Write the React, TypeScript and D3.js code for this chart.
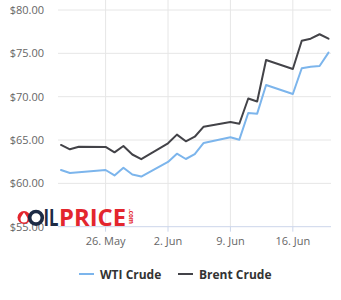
import React from "react";
import * as d3 from "d3";

const dates = [
  "2025-05-21", "2025-05-22", "2025-05-23", "2025-05-26", "2025-05-27", "2025-05-28",
  "2025-05-29", "2025-05-30", "2025-06-02", "2025-06-03", "2025-06-04", "2025-06-05",
  "2025-06-06", "2025-06-09", "2025-06-10", "2025-06-11", "2025-06-12", "2025-06-13",
  "2025-06-16", "2025-06-17", "2025-06-18", "2025-06-19", "2025-06-20",
];
const wti = [
  61.54, 61.2, 61.28, 61.54, 60.91, 61.81, 61.02, 60.79, 62.47, 63.42, 62.81, 63.37,
  64.66, 65.31, 65.04, 68.12, 68.04, 71.35, 70.31, 73.28, 73.46, 73.54, 75.08,
];
const brent = [
  64.43, 63.93, 64.23, 64.2, 63.58, 64.31, 63.33, 62.79, 64.62, 65.62, 64.85, 65.38,
  66.54, 67.08, 66.88, 69.79, 69.45, 74.23, 73.2, 76.46, 76.69, 77.2, 76.69,
];
const yTicks = [55, 60, 65, 70, 75, 80];
const xTicks = ["2025-05-26", "2025-06-02", "2025-06-09", "2025-06-16"];
const xTickLabels = ["26. May", "2. Jun", "9. Jun", "16. Jun"];
const seriesNames = ["WTI Crude", "Brent Crude"];
const seriesColors = ["#7cb5ec", "#434348"];

const parse = (s: string) => new Date(s + "T00:00:00Z");

export default function App() {
  const plotLeft = 58;
  const plotRight = 331;
  const plotTop = 0;
  const plotBottom = 226.7;

  const x = d3
    .scaleUtc()
    .domain([parse(dates[0]), parse(dates[dates.length - 1])])
    .range([61, 328.5]);
  const y = d3.scaleLinear().domain([55, 80]).range([226.7, 10]);

  const line = d3
    .line<[Date, number]>()
    .x((d) => x(d[0]))
    .y((d) => y(d[1]));

  const series = [wti, brent].map((vals) =>
    vals.map((v, i) => [parse(dates[i]), v] as [Date, number])
  );

  const font = "'Open Sans', 'DejaVu Sans', sans-serif";

  return (
    <svg
      width={341}
      height={300}
      style={{ position: "absolute", left: 0, top: 0, background: "#fff" }}
      fontFamily={font}
    >
      {/* horizontal gridlines */}
      {yTicks.slice(1).map((t) => (
        <line
          key={"hg" + t}
          x1={plotLeft}
          x2={plotRight}
          y1={y(t)}
          y2={y(t)}
          stroke="#e6e6e6"
          strokeWidth={1}
        />
      ))}
      {/* vertical gridlines */}
      {xTicks.map((t) => (
        <line
          key={"vg" + t}
          x1={x(parse(t))}
          x2={x(parse(t))}
          y1={plotTop}
          y2={plotBottom}
          stroke="#e6e6e6"
          strokeWidth={1}
        />
      ))}
      {/* x axis */}
      <line x1={plotLeft} x2={plotRight} y1={plotBottom} y2={plotBottom} stroke="#ccd6eb" strokeWidth={1} />
      {xTicks.map((t, i) => (
        <g key={"xt" + t}>
          <line
            x1={x(parse(t))}
            x2={x(parse(t))}
            y1={plotBottom}
            y2={plotBottom + 5}
            stroke="#ccd6eb"
          />
          <text
            x={x(parse(t))}
            y={245}
            textAnchor="middle"
            fontSize={11}
            fill="#666666"
          >
            {xTickLabels[i]}
          </text>
        </g>
      ))}
      {/* y labels */}
      {yTicks.map((t) => (
        <text key={"yl" + t} x={44} y={y(t) + 4} textAnchor="end" fontSize={11} fill="#666666">
          {"$" + d3.format(".2f")(t)}
        </text>
      ))}
      {/* series */}
      {series.map((s, i) => (
        <path
          key={"s" + i}
          d={line(s) || ""}
          fill="none"
          stroke={seriesColors[i]}
          strokeWidth={2}
          strokeLinejoin="round"
          strokeLinecap="round"
        />
      ))}
      {/* logo watermark */}
      <g>
        <circle cx={24} cy={217.5} r={6.5} fill="#e3262e" />
        <path d="M24 212.5 C26.5 216 27.5 217.5 27.5 219 A3.5 3.5 0 0 1 20.5 219 C20.5 217.5 21.5 216 24 212.5 Z" fill="#ffffff" />
        <circle cx={36} cy={217.8} r={6.3} fill="none" stroke="#1d2b45" strokeWidth={3.6} />
        <text x={43.5} y={226.3} fontSize={23} fontWeight="bold" fill="#1d2b45" textLength={15} lengthAdjust="spacingAndGlyphs">
          IL
        </text>
        <text x={59} y={226.3} fontSize={23} fontWeight="bold" fill="#e3262e" textLength={67} lengthAdjust="spacingAndGlyphs">
          PRICE
        </text>
        <text
          transform="translate(128.5,209) rotate(90)"
          fontSize={6.5}
          fontWeight="bold"
          fill="#e3262e"
          textLength={15}
          lengthAdjust="spacingAndGlyphs"
        >
          .com
        </text>
      </g>
      {/* legend */}
      {seriesNames.map((n, i) => {
        const lx = i === 0 ? 79 : 178;
        return (
          <g key={"lg" + i}>
            <line x1={lx} x2={lx + 15} y1={274} y2={274} stroke={seriesColors[i]} strokeWidth={2} />
            <text x={lx + 21} y={278.5} fontSize={12} fontWeight="bold" fill="#333333">
              {n}
            </text>
          </g>
        );
      })}
    </svg>
  );
}
